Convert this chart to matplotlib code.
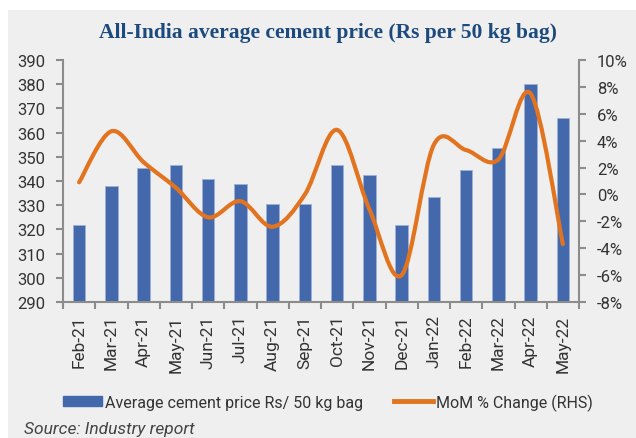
import numpy as np
import matplotlib
matplotlib.use('Agg')
import matplotlib.pyplot as plt
from matplotlib.path import Path
import matplotlib.patches as mpatches
from matplotlib.lines import Line2D
from matplotlib.ticker import FuncFormatter, MultipleLocator

months = ['Feb-21', 'Mar-21', 'Apr-21', 'May-21', 'Jun-21', 'Jul-21', 'Aug-21', 'Sep-21',
          'Oct-21', 'Nov-21', 'Dec-21', 'Jan-22', 'Feb-22', 'Mar-22', 'Apr-22', 'May-22']
price = [322, 338, 345.5, 346.5, 340.8, 338.8, 330.5, 330.5,
         346.5, 342.6, 322, 333.3, 344.5, 353.8, 380.2, 366]
mom = [0.9, 4.7, 2.4, 0.5, -1.7, -0.5, -2.4, 0.0,
       4.8, -1.1, -6.0, 3.7, 3.3, 2.6, 7.5, -3.7]

bg = '#efefef'
bar_col = '#4368ac'
line_col = '#e2731f'
spine_col = '#8c8c8c'
txt_col = '#333333'

plt.rcParams['font.family'] = ['Roboto', 'DejaVu Sans']

fig = plt.figure(figsize=(6.36, 4.39), dpi=100, facecolor='white')
# grey panel behind everything (white strip on top and left)
fig.patches.append(mpatches.Rectangle((8/636, 0), 1, 1-11/439, transform=fig.transFigure,
                                      facecolor=bg, edgecolor='none', zorder=-5))

ax1 = fig.add_axes([63/636, 1-303/439, (579-63)/636, (303-61)/439])
ax1.set_facecolor(bg)
ax1.patch.set_alpha(0)
x = np.arange(len(months))
ax1.bar(x, np.array(price)-290, bottom=290, width=0.38, color=bar_col,
        edgecolor='#9fb2d6', linewidth=0.6, zorder=2)
ax1.set_xlim(-0.5, len(months)-0.5)
ax1.set_ylim(290, 390)
ax1.yaxis.set_major_locator(MultipleLocator(10))
ax1.set_xticks(x)
ax1.set_xticklabels(months, rotation=90, fontsize=12.5, color=txt_col)
ax1.set_xticks(np.arange(-0.5, len(months)), minor=True)
ax1.tick_params(axis='x', which='major', length=0, pad=9)
ax1.tick_params(axis='x', which='minor', length=5, width=1.5, color=spine_col)
ax1.tick_params(axis='y', labelsize=12, colors=txt_col, length=5, width=1.5, pad=8)
ax1.tick_params(axis='y', color=spine_col)
for s in ['top', 'right']:
    ax1.spines[s].set_visible(False)
for s in ['left', 'bottom']:
    ax1.spines[s].set_color(spine_col)
    ax1.spines[s].set_linewidth(1.5)

ax2 = ax1.twinx()
ax2.set_ylim(-8, 10)
ax2.yaxis.set_major_locator(MultipleLocator(2))
ax2.yaxis.set_major_formatter(FuncFormatter(lambda v, p: '%d%%' % round(v)))
ax2.tick_params(axis='y', labelsize=12, colors=txt_col, length=5, width=1.5, pad=8)
ax2.tick_params(axis='y', color=spine_col)
for s in ['top', 'left', 'bottom']:
    ax2.spines[s].set_visible(False)
ax2.spines['right'].set_color(spine_col)
ax2.spines['right'].set_linewidth(1.5)

# smoothed line (Excel-style bezier through the data points)
pts = np.column_stack([x, mom])
verts = [tuple(pts[0])]
codes = [Path.MOVETO]
n = len(pts)
for i in range(n-1):
    p0 = pts[i-1] if i > 0 else pts[i]
    p1 = pts[i]
    p2 = pts[i+1]
    p3 = pts[i+2] if i+2 < n else pts[i+1]
    c1 = p1 + (p2-p0)/6
    c2 = p2 - (p3-p1)/6
    verts += [tuple(c1), tuple(c2), tuple(p2)]
    codes += [Path.CURVE4]*3
ax2.add_patch(mpatches.PathPatch(Path(verts, codes), facecolor='none', edgecolor=line_col,
                                 linewidth=3, capstyle='round', joinstyle='round', zorder=3))

fig.text(0.515, 1-33/439, 'All-India average cement price (Rs per 50 kg bag)',
         ha='center', va='center', fontsize=15.5, fontweight='bold', color='#1d4a7c',
         family=['Liberation Serif', 'DejaVu Serif'])

handles = [mpatches.Patch(color=bar_col, label='Average cement price Rs/ 50 kg bag'),
           Line2D([0], [0], color=line_col, linewidth=3.5, label='MoM % Change (RHS)')]
fig.legend(handles=handles, loc='center', bbox_to_anchor=(328/636, 1-403/439), ncol=2,
           frameon=False, fontsize=11.5, handlelength=2.45, handleheight=0.6,
           handletextpad=0.2, columnspacing=1.9, labelcolor=txt_col)

fig.text(24/636, 2/439, 'Source: Industry report', ha='left', va='bottom',
         fontsize=12.5, style='italic', color='#444444')

fig.savefig('out.png', dpi=100, facecolor=fig.get_facecolor())
